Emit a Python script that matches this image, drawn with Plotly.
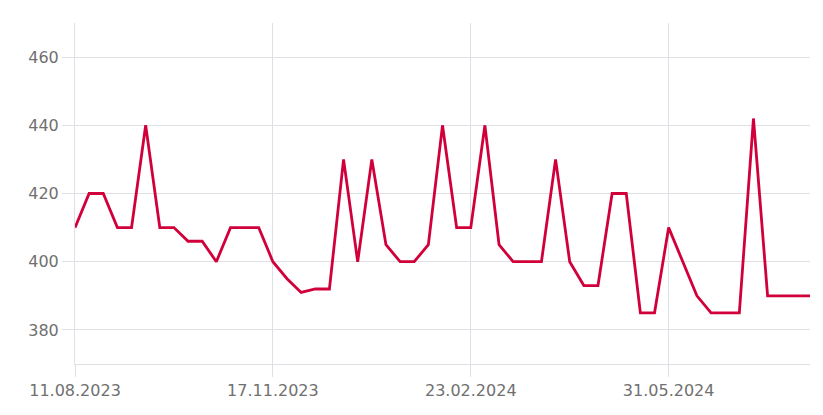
import datetime as dt
import plotly.graph_objects as go

start_date = "2023-08-11"
prices = [410, 420, 420, 410, 410, 440, 410, 410, 406, 406, 400, 410, 410, 410,
          400, 395, 391, 392, 392, 430, 400, 430, 405, 400, 400, 405, 440, 410,
          410, 440, 405, 400, 400, 400, 430, 400, 393, 393, 420, 420, 385, 385,
          410, 400, 390, 385, 385, 385, 442, 390, 390, 390, 390]
x_tick_dates = ["2023-08-11", "2023-11-17", "2024-02-23", "2024-05-31"]
x_tick_labels = ["11.08.2023", "17.11.2023", "23.02.2024", "31.05.2024"]
y_tick_vals = [380, 400, 420, 440, 460]

d0 = dt.date.fromisoformat(start_date)
dates = [d0 + dt.timedelta(weeks=i) for i in range(len(prices))]

grid = "#dde0e4"
text_color = "#707070"
fig = go.Figure()
fig.add_trace(go.Scatter(x=dates, y=prices, mode="lines",
                         line=dict(color="#d1003a", width=2.8),
                         hoverinfo="x+y"))
fig.update_layout(
    width=823, height=415,
    margin=dict(l=67, r=21, t=15, b=59),
    paper_bgcolor="white", plot_bgcolor="white",
    showlegend=False,
    font=dict(family="DejaVu Sans", color=text_color),
)
fig.update_xaxes(
    range=[dates[0], dates[-1]],
    tickvals=x_tick_dates, ticktext=x_tick_labels,
    showgrid=True, gridcolor=grid, gridwidth=1,
    showline=True, linecolor=grid, linewidth=1,
    ticks="outside", ticklen=12, tickcolor=grid, tickwidth=1,
    tickfont=dict(size=16, color=text_color),
    zeroline=False,
)
fig.update_yaxes(
    range=[370, 470],
    tickvals=y_tick_vals,
    showgrid=True, gridcolor=grid, gridwidth=1,
    showline=True, linecolor=grid, linewidth=1,
    ticks="outside", ticklen=12, tickcolor=grid, tickwidth=1,
    tickfont=dict(size=16, color=text_color),
    zeroline=False,
)
fig.write_html("out.html")
